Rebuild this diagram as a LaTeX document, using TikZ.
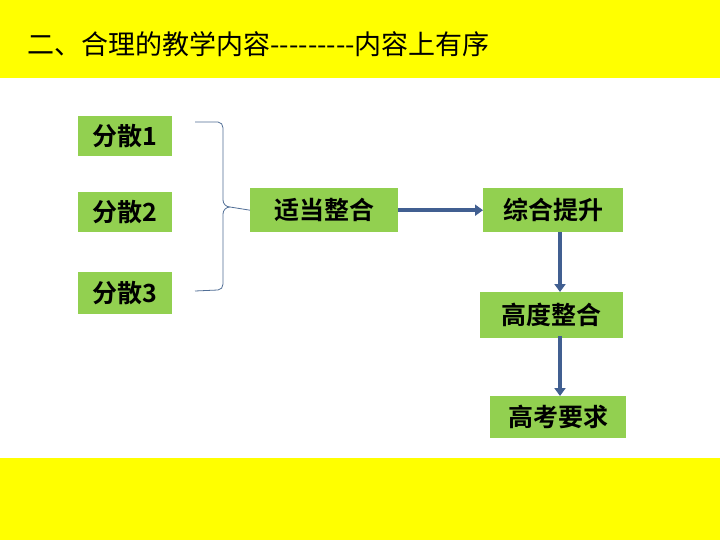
\documentclass[tikz,border=0pt]{standalone}
\usepackage{fontspec}
\setmainfont{Noto Sans CJK SC}
\newfontfamily\cjkb{Noto Sans CJK SC Bold}
\usetikzlibrary{arrows.meta}
\definecolor{ylw}{RGB}{255,255,0}
\definecolor{grn}{RGB}{146,208,80}
\definecolor{arr}{RGB}{65,95,145}
\definecolor{brc}{RGB}{80,110,150}
\tikzset{gbox/.style={fill=grn,anchor=north west,inner sep=0pt,font=\cjkb\fontsize{25}{25}\selectfont,align=center},
 barrow/.style={arr,line width=4pt,-{Triangle[length=8pt,width=11pt]}}}
\begin{document}
\begin{tikzpicture}[x=1pt,y=-1pt]
\useasboundingbox (0,0) rectangle (720,540);
\fill[white] (0,0) rectangle (720,540);
\fill[ylw] (0,0) rectangle (720,78);
\fill[ylw] (0,458) rectangle (720,540);
\node[anchor=west,font=\fontsize{27}{27}\selectfont] (title) at (24,44) {二、合理的教学内容{-}{-}{-}{-}{-}{-}{-}{-}{-}内容上有序};
\node[gbox,minimum width=94pt,minimum height=40pt] (s1) at (78,116) {分散1};
\node[gbox,minimum width=94pt,minimum height=40pt] (s2) at (78,192) {分散2};
\node[gbox,minimum width=94pt,minimum height=42pt] (s3) at (78,272) {分散3};
\node[gbox,minimum width=148pt,minimum height=44pt] (a) at (250,188) {适当整合};
\node[gbox,minimum width=140pt,minimum height=44pt] (b) at (483,188) {综合提升};
\node[gbox,minimum width=143pt,minimum height=46pt] (c) at (480,292) {高度整合};
\node[gbox,minimum width=136pt,minimum height=42pt] (d) at (490,396) {高考要求};
\coordinate (p1) at (560,232);
\coordinate (p2) at (560,336);
\draw[brc,line width=0.8pt] (195,122) -- (218,122) to[out=0,in=90] (223,128) -- (223,200)
  to[out=-90,in=180] (230,207) -- (a.west) (230,207) to[out=180,in=90] (223,214) -- (223,284)
  to[out=-90,in=0] (218,290) -- (195,291);
\draw[barrow] (a.east) -- (b.west);
\draw[barrow] (p1) -- (p1 |- c.north);
\draw[barrow] (p2) -- (p2 |- d.north);
\end{tikzpicture}
\end{document}
